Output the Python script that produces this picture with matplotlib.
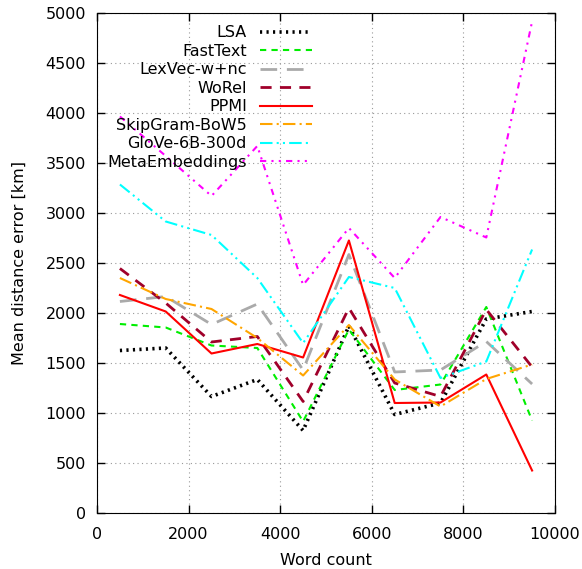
import matplotlib
matplotlib.use('Agg')
import matplotlib.pyplot as plt

words = [500, 1500, 2500, 3500, 4500, 5500, 6500, 7500, 8500, 9500]

lsa = [1625, 1650, 1165, 1335, 825, 1870, 985, 1100, 1940, 2015]
fasttext = [1890, 1855, 1675, 1650, 915, 1835, 1230, 1285, 2060, 925]
lexvec = [2115, 2165, 1885, 2090, 1430, 2585, 1410, 1430, 1715, 1290]
worel = [2445, 2100, 1710, 1765, 1115, 2050, 1300, 1165, 2035, 1460]
ppmi = [2180, 2015, 1595, 1690, 1555, 2725, 1100, 1105, 1385, 425]
skipgram = [2350, 2140, 2040, 1750, 1375, 1880, 1335, 1065, 1340, 1485]
glove = [3285, 2915, 2780, 2350, 1700, 2360, 2250, 1350, 1515, 2635]
meta = [3965, 3570, 3170, 3670, 2280, 2850, 2350, 2960, 2755, 4915]

series = [
    ('LSA', lsa, 'black', (0, (0.6, 1.2)), 2.6),
    ('FastText', fasttext, '#00ee00', (0, (3, 2.5)), 1.5),
    ('LexVec-w+nc', lexvec, '#aaaaaa', (0, (6, 3.5)), 2.0),
    ('WoRel', worel, '#a0002a', (0, (4, 3)), 2.0),
    ('PPMI', ppmi, 'red', '-', 1.5),
    ('SkipGram-BoW5', skipgram, '#ffa500', (0, (6, 2, 1, 2)), 1.5),
    ('GloVe-6B-300d', glove, 'cyan', (0, (6, 2, 1, 2, 1, 2)), 1.5),
    ('MetaEmbeddings', meta, 'magenta', (0, (3, 2.5, 1, 2.5, 1, 2.5)), 1.5),
]

plt.rcParams['font.size'] = 11.5

fig = plt.figure(figsize=(5.82, 5.69), dpi=100)
ax = fig.add_axes([0.1667, 0.0984, 0.7869, 0.8788])

for name, vals, col, ls, lw in series:
    ax.plot(words, vals, color=col, linestyle=ls, linewidth=lw, label=name)

ax.set_xlim(0, 10000)
ax.set_ylim(0, 5000)
ax.set_xticks(range(0, 10001, 2000))
ax.set_yticks(range(0, 5001, 500))
ax.grid(True, color='#999999', linestyle=(0, (1, 3)), linewidth=0.8)
ax.tick_params(direction='in', top=True, right=True, length=6, width=1, pad=8)
ax.tick_params(axis='x', pad=10)
ax.set_xlabel('Word count', labelpad=8)
ax.set_ylabel('Mean distance error [km]', labelpad=13)

ax.legend(loc='upper right', bbox_to_anchor=(0.556, 0.975), bbox_transform=fig.transFigure,
          frameon=False, markerfirst=False, handlelength=3.3, labelspacing=0.22,
          borderpad=0.2, handletextpad=0.8, fontsize=11.5)

fig.savefig('out.png', dpi=100)
